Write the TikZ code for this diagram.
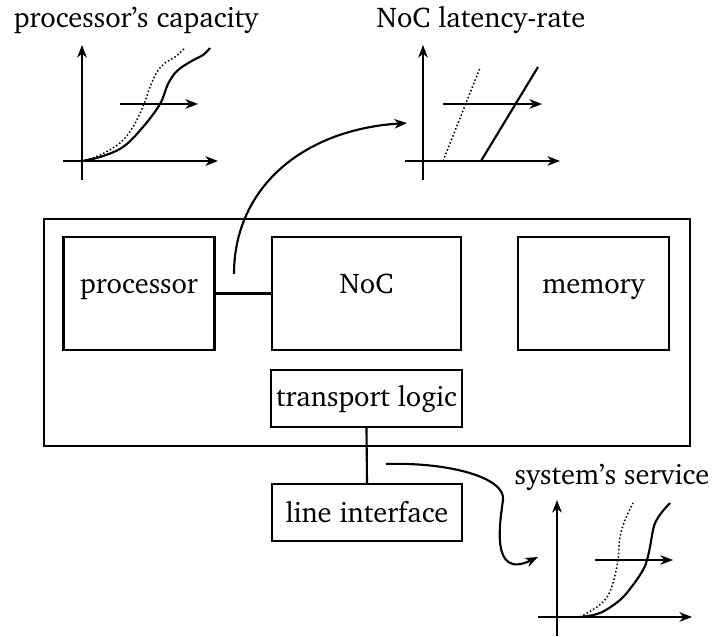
\documentclass[tikz,border=0pt]{standalone}
\usepackage[T1]{fontenc}
\usepackage{charter}
\usetikzlibrary{arrows.meta}

\tikzset{
  unitbox/.style={draw, inner sep=0pt, text height=0pt, text depth=0pt,
    minimum height=45.2pt},
  smallbox/.style={draw, inner sep=0pt, minimum height=22.8pt},
  axis/.style={->},
  dottedcurve/.style={line width=0.6pt, dash pattern=on 0.6pt off 0.9pt},
  plotlabel/.style={anchor=base, inner sep=0pt},
}

\begin{document}
\begin{tikzpicture}[x=0.4pt, y=-0.4pt, line width=0.85pt,
  >={Stealth[length=5pt, width=3.8pt, inset=1.5pt]},
  font=\fontsize{11.4}{13.5}\selectfont]
\useasboundingbox (0,0) rectangle (713,637);

% the system and its parts
\node[draw, minimum width=258.4pt, minimum height=90.8pt, inner sep=0pt] (sys) at (367,332.5) {};
\node[unitbox, minimum width=60.4pt] (proc) at (139,293.5) {processor};
\node[unitbox, minimum width=75.6pt] (noc) at (366.5,293.5) {NoC};
\node[unitbox, minimum width=60.4pt] (mem) at (593.5,293.5) {memory};
\node[smallbox, minimum width=76.4pt] (tl) at (366.5,398.5) {transport logic};
\node[smallbox, minimum width=76pt] (li) at (367,512.5) {line interface};

\draw (proc.east) -- (noc.west);
\draw (tl.south) -- (li.north);

% processor's capacity
\node[plotlabel] (lcap) at (136,28) {processor's capacity};
\draw[axis] (82,180) -- (82,45);
\draw[axis] (63,161) -- (218,161);
\draw[axis] (120,104) -- (198,104);
\draw plot[smooth, tension=0.6] coordinates {(82,161) (100,157) (123,147) (143,127) (160,104)
  (168,84) (177,71) (190,62) (203,55) (210,48)};
\draw[dottedcurve] plot[smooth, tension=0.6] coordinates {(82,161) (100,155) (120,143) (133,127)
  (144,104) (150,87) (157,72) (165,63) (175,57) (185,48)};

% NoC latency-rate
\node[plotlabel] (llat) at (481,28) {NoC latency-rate};
\draw[axis] (423,180) -- (423,45);
\draw[axis] (405,161) -- (560,161);
\draw[axis] (443,104) -- (542,104);
\draw[dottedcurve] (443,161) -- (480,68);
\draw (481,161) -- (538,67);

% system's service
\node[plotlabel] (lsrv) at (612,485) {system's service};
\draw[axis] (557,636) -- (557,500);
\draw[axis] (538,617) -- (692,617);
\draw[axis] (595,560) -- (673,560);
\draw plot[smooth, tension=0.6] coordinates {(580,617) (600,613) (620,600) (633,585) (643,570)
  (647,560) (650,547) (653,530) (656,521) (662,512) (670,503)};
\draw[dottedcurve] plot[smooth, tension=0.6] coordinates {(580,617) (597,607) (607,597) (613,583)
  (618,560) (620,537) (625,520) (633,503)};

% mappings from the components to their curves
\coordinate (c1s) at (234,274);
\coordinate (c1e) at (407,123);
\draw[->] (c1s) .. controls (234,190) and (300,130) .. (c1e);
\coordinate (c2s) at (386,464);
\coordinate (c2e) at (538,557);
\draw[->] (c2s) .. controls (450,462) and (506,478) .. (503,500)
  .. controls (500,522) and (490,580) .. (c2e);
\end{tikzpicture}
\end{document}
